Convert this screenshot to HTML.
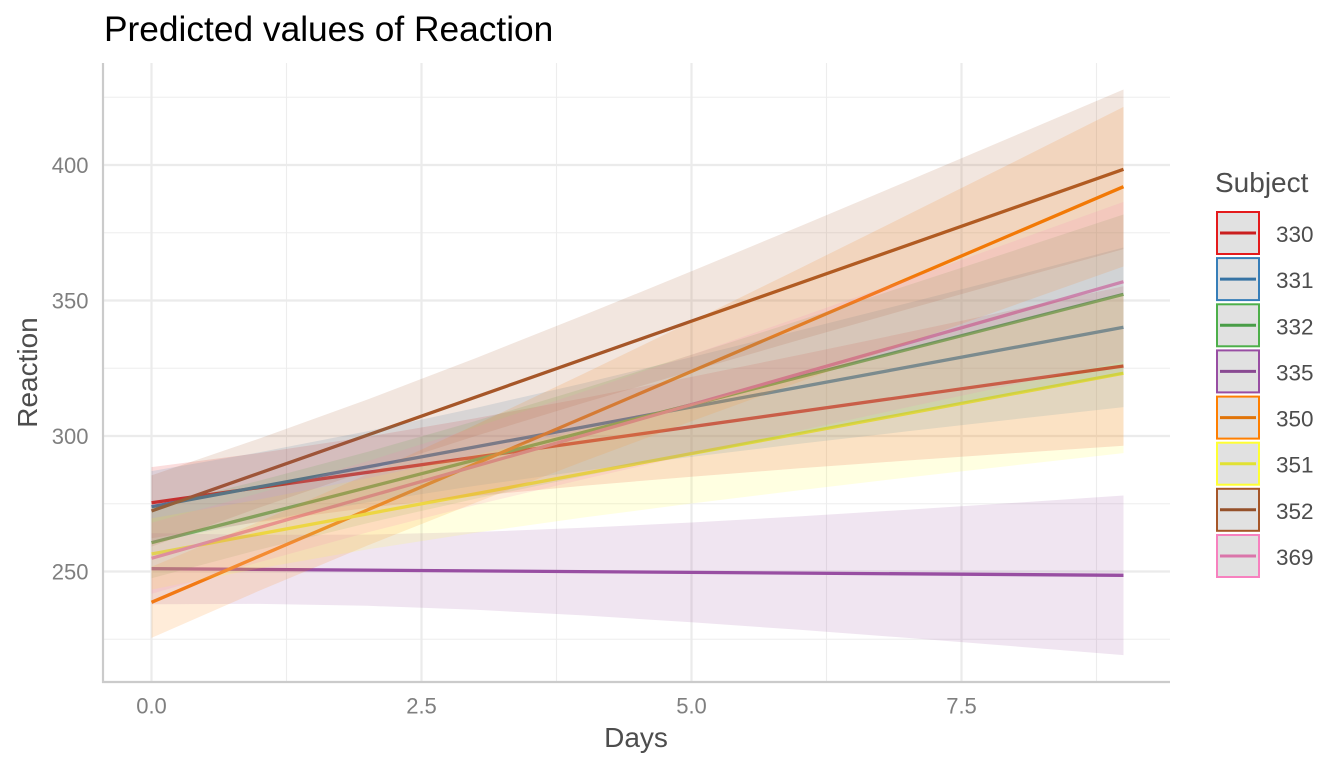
<!DOCTYPE html>
<html>
<head>
<meta charset="utf-8">
<style>
  html, body { margin: 0; padding: 0; background: #ffffff; }
  svg { display: block; }
  text { font-family: "Liberation Sans", Arial, Helvetica, sans-serif; }
</style>
</head>
<body>
<svg width="1344" height="768" viewBox="0 0 1344 768" xmlns="http://www.w3.org/2000/svg">
  <rect x="0" y="0" width="1344" height="768" fill="#ffffff"/>

  <!-- minor grid -->
  <g stroke="#ededed" stroke-width="1.1">
    <line x1="103" y1="639.25" x2="1170" y2="639.25"/>
    <line x1="103" y1="503.75" x2="1170" y2="503.75"/>
    <line x1="103" y1="368.25" x2="1170" y2="368.25"/>
    <line x1="103" y1="232.75" x2="1170" y2="232.75"/>
    <line x1="103" y1="97.25" x2="1170" y2="97.25"/>
    <line x1="286.5" y1="63" x2="286.5" y2="682"/>
    <line x1="556.5" y1="63" x2="556.5" y2="682"/>
    <line x1="826.5" y1="63" x2="826.5" y2="682"/>
    <line x1="1096.5" y1="63" x2="1096.5" y2="682"/>
  </g>
  <!-- major grid -->
  <g stroke="#ebebeb" stroke-width="2.2">
    <line x1="103" y1="571.5" x2="1170" y2="571.5"/>
    <line x1="103" y1="436" x2="1170" y2="436"/>
    <line x1="103" y1="300.5" x2="1170" y2="300.5"/>
    <line x1="103" y1="165" x2="1170" y2="165"/>
    <line x1="151.5" y1="63" x2="151.5" y2="682"/>
    <line x1="421.5" y1="63" x2="421.5" y2="682"/>
    <line x1="691.5" y1="63" x2="691.5" y2="682"/>
    <line x1="961.5" y1="63" x2="961.5" y2="682"/>
  </g>

  <!-- lines -->
  <g stroke-width="3.3" fill="none" stroke-linecap="butt">
    <line x1="151.5" y1="502.7" x2="1123.5" y2="366.0" stroke="#E41A1C"/>
    <line x1="151.5" y1="506.7" x2="1123.5" y2="327.3" stroke="#377EB8"/>
    <line x1="151.5" y1="542.7" x2="1123.5" y2="294.3" stroke="#4DAF4A"/>
    <line x1="151.5" y1="568.7" x2="1123.5" y2="575.3" stroke="#984EA3"/>
    <line x1="151.5" y1="602.3" x2="1123.5" y2="186.7" stroke="#FF7F00"/>
    <line x1="151.5" y1="554.0" x2="1123.5" y2="373.3" stroke="#FFFF33"/>
    <line x1="151.5" y1="511.0" x2="1123.5" y2="169.3" stroke="#A65628"/>
    <line x1="151.5" y1="558.3" x2="1123.5" y2="281.7" stroke="#F781BF"/>
  </g>

  <!-- ribbons -->
  <g fill-opacity="0.15" stroke="none">
    <polygon fill="#E41A1C" points="151.5,467.1 259.5,453.0 367.5,436.7 475.5,418.2 583.5,398.1 691.5,376.9 799.5,354.9 907.5,332.3 1015.5,309.4 1123.5,286.2 1123.5,445.8 1015.5,453.0 907.5,460.5 799.5,468.3 691.5,476.7 583.5,485.7 475.5,496.0 367.5,507.9 259.5,522.0 151.5,538.3"/>
    <polygon fill="#377EB8" points="151.5,471.1 259.5,452.3 367.5,431.2 475.5,408.0 583.5,383.2 691.5,357.1 799.5,330.4 907.5,303.1 1015.5,275.5 1123.5,247.5 1123.5,407.1 1015.5,419.1 907.5,431.3 799.5,443.8 691.5,456.9 583.5,470.8 475.5,485.8 367.5,502.4 259.5,521.3 151.5,542.3"/>
    <polygon fill="#4DAF4A" points="151.5,507.1 259.5,480.6 367.5,451.9 475.5,421.0 583.5,388.5 691.5,354.8 799.5,320.4 907.5,285.4 1015.5,250.1 1123.5,214.5 1123.5,374.1 1015.5,393.7 907.5,413.6 799.5,433.8 691.5,454.6 583.5,476.1 475.5,498.8 367.5,523.1 259.5,549.6 151.5,578.3"/>
    <polygon fill="#984EA3" points="151.5,533.1 259.5,534.9 367.5,534.6 475.5,532.0 583.5,527.8 691.5,522.5 799.5,516.4 907.5,509.7 1015.5,502.8 1123.5,495.5 1123.5,655.1 1015.5,646.4 907.5,637.9 799.5,629.8 691.5,622.3 583.5,615.4 475.5,609.8 367.5,605.8 259.5,603.9 151.5,604.3"/>
    <polygon fill="#FF7F00" points="151.5,566.7 259.5,521.6 367.5,474.3 475.5,424.9 583.5,373.8 691.5,321.5 799.5,268.5 907.5,214.9 1015.5,161.1 1123.5,106.9 1123.5,266.5 1015.5,304.7 907.5,343.1 799.5,381.9 691.5,421.3 583.5,461.4 475.5,502.7 367.5,545.5 259.5,590.6 151.5,637.9"/>
    <polygon fill="#FFFF33" points="151.5,518.4 259.5,499.4 367.5,478.2 475.5,454.9 583.5,429.9 691.5,403.7 799.5,376.8 907.5,349.3 1015.5,321.6 1123.5,293.5 1123.5,453.1 1015.5,465.2 907.5,477.5 799.5,490.2 691.5,503.5 583.5,517.5 475.5,532.7 367.5,549.4 259.5,568.4 151.5,589.6"/>
    <polygon fill="#A65628" points="151.5,475.4 259.5,438.5 367.5,399.5 475.5,358.2 583.5,315.3 691.5,271.3 799.5,226.5 907.5,181.1 1015.5,135.4 1123.5,89.5 1123.5,249.1 1015.5,279.0 907.5,309.3 799.5,339.9 691.5,371.1 583.5,402.9 475.5,436.0 367.5,470.7 259.5,507.5 151.5,546.6"/>
    <polygon fill="#F781BF" points="151.5,522.7 259.5,493.1 367.5,461.2 475.5,427.2 583.5,391.6 691.5,354.8 799.5,317.2 907.5,279.1 1015.5,240.7 1123.5,201.9 1123.5,361.5 1015.5,384.3 907.5,407.3 799.5,430.6 691.5,454.6 583.5,479.2 475.5,505.0 367.5,532.4 259.5,562.1 151.5,593.9"/>
  </g>

  <!-- axis lines -->
  <line x1="103" y1="63" x2="103" y2="683" stroke="#cbcbcb" stroke-width="2.2"/>
  <line x1="102" y1="682" x2="1170" y2="682" stroke="#cbcbcb" stroke-width="2.2"/>

  <!-- y tick labels -->
  <g font-size="22" fill="#7f7f7f" text-anchor="end">
    <text x="88.5" y="172.8">400</text>
    <text x="88.5" y="308.3">350</text>
    <text x="88.5" y="443.8">300</text>
    <text x="88.5" y="579.3">250</text>
  </g>
  <!-- x tick labels -->
  <g font-size="22" fill="#7f7f7f" text-anchor="middle">
    <text x="151.5" y="713.5">0.0</text>
    <text x="421.5" y="713.5">2.5</text>
    <text x="691.5" y="713.5">5.0</text>
    <text x="961.5" y="713.5">7.5</text>
  </g>

  <!-- axis titles -->
  <text x="636" y="747" font-size="28" fill="#4d4d4d" text-anchor="middle">Days</text>
  <text transform="translate(37,372.5) rotate(-90)" font-size="28" fill="#4d4d4d" text-anchor="middle">Reaction</text>

  <!-- title -->
  <text x="104" y="41" font-size="35.3" fill="#000000">Predicted values of Reaction</text>

  <!-- legend -->
  <text x="1215" y="192" font-size="28" fill="#4d4d4d">Subject</text>
  <g stroke-width="3">
    <line x1="1220" y1="233" x2="1256" y2="233" stroke="#E41A1C"/>
    <line x1="1220" y1="279.1" x2="1256" y2="279.1" stroke="#377EB8"/>
    <line x1="1220" y1="325.3" x2="1256" y2="325.3" stroke="#4DAF4A"/>
    <line x1="1220" y1="371.4" x2="1256" y2="371.4" stroke="#984EA3"/>
    <line x1="1220" y1="417.6" x2="1256" y2="417.6" stroke="#FF7F00"/>
    <line x1="1220" y1="463.7" x2="1256" y2="463.7" stroke="#FFFF33"/>
    <line x1="1220" y1="509.8" x2="1256" y2="509.8" stroke="#A65628"/>
    <line x1="1220" y1="556" x2="1256" y2="556" stroke="#F781BF"/>
  </g>
  <g fill="#333333" fill-opacity="0.15" stroke-width="2">
    <rect x="1217" y="212" width="42" height="42" stroke="#E41A1C"/>
    <rect x="1217" y="258.1" width="42" height="42" stroke="#377EB8"/>
    <rect x="1217" y="304.3" width="42" height="42" stroke="#4DAF4A"/>
    <rect x="1217" y="350.4" width="42" height="42" stroke="#984EA3"/>
    <rect x="1217" y="396.6" width="42" height="42" stroke="#FF7F00"/>
    <rect x="1217" y="442.7" width="42" height="42" stroke="#FFFF33"/>
    <rect x="1217" y="488.8" width="42" height="42" stroke="#A65628"/>
    <rect x="1217" y="535" width="42" height="42" stroke="#F781BF"/>
  </g>
  <g font-size="22.5" fill="#4d4d4d">
    <text x="1276" y="242">330</text>
    <text x="1276" y="288.1">331</text>
    <text x="1276" y="334.3">332</text>
    <text x="1276" y="380.4">335</text>
    <text x="1276" y="426.6">350</text>
    <text x="1276" y="472.7">351</text>
    <text x="1276" y="518.8">352</text>
    <text x="1276" y="565">369</text>
  </g>
</svg>
</body>
</html>
